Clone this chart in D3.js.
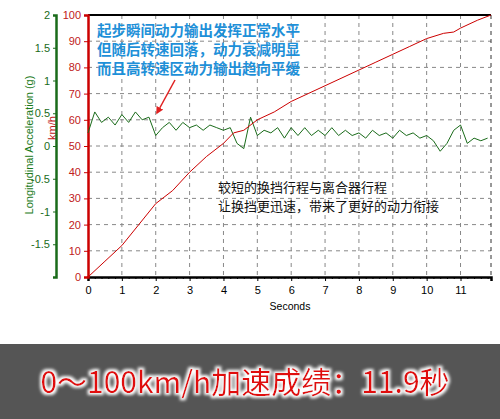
<!DOCTYPE html><html><head><meta charset="utf-8"><script src="https://cdn.jsdelivr.net/npm/d3@7"></script>
<style>body{margin:0;background:#fff}svg{display:block}text{font-family:"Liberation Sans",Arial,sans-serif}</style></head><body><script>
const speedT=[0,0.5,1,1.5,2,2.5,3,3.5,4,4.3,4.6,5,5.5,6,6.5,7,7.5,8,8.5,9,9.5,10,10.5,10.8,11,11.5,11.9];
const speedV=[0,6,12,20,28,33,40,46,51,55,56,60,63,67,70,73,76,79,82,85,88,91,93,93.5,95,98,100];
const accT=d3.range(60).map(i=>+(i*0.2).toFixed(1));
const accG=[0.2,0.52,0.36,0.44,0.32,0.48,0.36,0.52,0.4,0.44,0.16,0.28,0.36,0.24,0.36,0.28,0.32,0.24,0.32,0.28,0.24,0.28,0.04,-0.04,0.44,0.16,0.24,0.2,0.28,0.12,0.28,0.16,0.28,0.16,0.24,0.16,0.28,0.16,0.24,0.16,0.2,0.12,0.24,0.16,0.2,0.12,0.24,0.16,0.2,0.12,0.16,0.08,-0.08,0.04,0.24,0.32,0.04,0.12,0.08,0.12];
const xTicks=d3.range(0,12);
const kmhTicks=d3.range(0,101,10);
const gTicks=[-1.5,-1,-0.5,0,0.5,1,1.5,2];
const svg=d3.select("body").append("svg").attr("width",500).attr("height",419);
const x=d3.scaleLinear().domain([0,11.9]).range([88,491]);
const y=d3.scaleLinear().domain([0,100]).range([277,15]);
const yg=d3.scaleLinear().domain([-2,2]).range([277,15]);
svg.append("rect").attr("x",0).attr("y",344).attr("width",500).attr("height",75).attr("fill","#555");
svg.append("g").selectAll("line").data(kmhTicks.slice(1,10)).join("line").attr("x1",88).attr("x2",491).attr("y1",d=>y(d)).attr("y2",d=>y(d)).attr("stroke","#888").attr("stroke-dasharray","4,4");
svg.append("g").selectAll("line").data(xTicks.slice(1)).join("line").attr("y1",15).attr("y2",277).attr("x1",d=>x(d)).attr("x2",d=>x(d)).attr("stroke","#888").attr("stroke-dasharray","4,4");
svg.append("line").attr("x1",491).attr("x2",491).attr("y1",15).attr("y2",277).attr("stroke","#333").attr("stroke-dasharray","4,4");
svg.append("line").attr("x1",88).attr("x2",491).attr("y1",15).attr("y2",15).attr("stroke","#000").attr("stroke-width",2);
const xa=svg.append("g").attr("transform","translate(0,277)").call(d3.axisBottom(x).tickValues(xTicks).tickSize(4).tickFormat(d3.format("d")));
xa.select(".domain").attr("stroke-width",2.5);
xa.selectAll("text").attr("font-size",11).attr("dy","0.9em");
svg.append("g").attr("transform","translate(0,277)").call(d3.axisBottom(x).ticks(60).tickSize(2).tickFormat("")).select(".domain").remove();
svg.append("text").attr("x",290).attr("y",310).attr("text-anchor","middle").attr("font-size",10.5).text("Seconds");
const ra=svg.append("g").attr("transform","translate(88,0)").call(d3.axisLeft(y).tickValues(kmhTicks).tickSize(4));
ra.select(".domain").attr("stroke","#c00").attr("stroke-width",2.5);
ra.selectAll("line").attr("stroke","#c00");ra.selectAll("text").attr("fill","#c02020").attr("font-size",11);
svg.append("text").attr("transform","translate(56,128) rotate(-90)").attr("text-anchor","middle").attr("fill","#c02020").attr("font-size",11).text("km/h");
const ga=svg.append("g").attr("transform","translate(56,0)").call(d3.axisLeft(yg).tickValues(gTicks).tickSize(3).tickFormat(d=>d));
ga.select(".domain").attr("stroke","#1a6b1a").attr("stroke-width",2.5);
ga.selectAll("line").attr("stroke","#1a6b1a");ga.selectAll("text").attr("fill","#1a6b1a").attr("font-size",11);
svg.append("text").attr("transform","translate(33,145) rotate(-90)").attr("text-anchor","middle").attr("fill","#1a7a1a").attr("font-size",11).text("Longitudinal Acceleration (g)");
svg.append("path").datum(accT.map((t,i)=>[t,accG[i]])).attr("fill","none").attr("stroke","#1a6b1a").attr("stroke-width",1)
 .attr("d",d3.line().x(d=>x(d[0])).y(d=>yg(d[1])));
svg.append("path").datum(speedT.map((t,i)=>[t,speedV[i]])).attr("fill","none").attr("stroke","#c00").attr("stroke-width",1)
 .attr("d",d3.line().x(d=>x(d[0])).y(d=>y(d[1])));
const a1=["起步瞬间动力输出发挥正常水平","但随后转速回落，动力衰减明显","而且高转速区动力输出趋向平缓"];
svg.append("g").selectAll("text").data(a1).join("text").attr("x",97).attr("y",(d,i)=>36+i*19).attr("fill","#1e90d8").attr("font-size",14.5).attr("font-weight","bold").style("font-family","'Noto Sans CJK SC'").text(d=>d);
const defs=svg.append("defs");
defs.append("marker").attr("id","ah").attr("viewBox","0 0 10 10").attr("refX",8).attr("refY",5).attr("markerWidth",5).attr("markerHeight",5).attr("orient","auto").append("path").attr("d","M0,0L10,5L0,10z").attr("fill","#e02020");
svg.append("line").attr("x1",175).attr("y1",80).attr("x2",157).attr("y2",113).attr("stroke","#e02020").attr("stroke-width",1.5).attr("marker-end","url(#ah)");
const a2=["较短的换挡行程与离合器行程","让换挡更迅速，带来了更好的动力衔接"];
svg.append("g").selectAll("text").data(a2).join("text").attr("x",218).attr("y",(d,i)=>192+i*19).attr("fill","#111").attr("font-size",13).style("font-family","'Noto Sans CJK SC'").text(d=>d);
defs.append("filter").attr("id","glow").attr("x","-10%").attr("y","-30%").attr("width","120%").attr("height","160%").html('<feMorphology in="SourceAlpha" operator="dilate" radius="1.5" result="d"/><feGaussianBlur in="d" stdDeviation="1.5" result="b"/><feFlood flood-color="#fff"/><feComposite in2="b" operator="in" result="w"/><feMerge><feMergeNode in="w"/><feMergeNode in="SourceGraphic"/></feMerge>');
svg.append("text").attr("x",245).attr("y",393).attr("text-anchor","middle").attr("fill","#e01010").attr("font-size",30).style("font-family","'Noto Sans CJK SC'").attr("filter","url(#glow)").text("0～100km/h加速成绩：11.9秒");
</script></body></html>
